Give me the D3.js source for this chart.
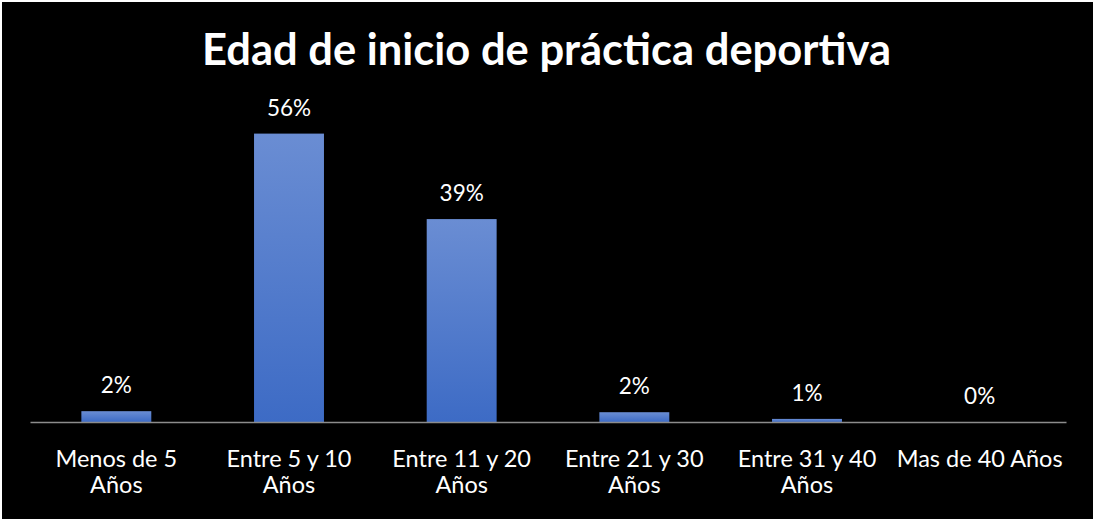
<!DOCTYPE html>
<html>
<head>
<meta charset="utf-8">
<script src="https://cdn.jsdelivr.net/npm/d3@7"></script>
<style>
  html, body { margin: 0; padding: 0; background: #000; }
  svg { display: block; }
  text { font-family: Lato, "Open Sans", sans-serif; }
</style>
</head>
<body>
<svg id="chart" width="1093" height="519"></svg>
<script>
const title = "Edad de inicio de práctica deportiva";
const categories = ["Menos de 5\nAños", "Entre 5 y 10\nAños", "Entre 11 y 20\nAños", "Entre 21 y 30\nAños", "Entre 31 y 40\nAños", "Mas de 40 Años"];
const values = [2.1, 56.0, 39.4, 1.9, 0.6, 0.0];
const yDomain = [0, 60];

const W = 1093, H = 519;
const margin = { left: 30, right: 27, top: 113, bottom: 97 };
const svg = d3.select("#chart");

// frame
svg.append("rect").attr("x", 0).attr("y", 0).attr("width", W).attr("height", H).attr("fill", "#ffffff");
svg.append("rect").attr("x", 2).attr("y", 2).attr("width", W - 2).attr("height", H - 2).attr("fill", "#000000");

const defs = svg.append("defs");
const grad = defs.append("linearGradient").attr("id", "barGrad")
  .attr("x1", 0).attr("y1", 0).attr("x2", 0).attr("y2", 1);
grad.append("stop").attr("offset", "0%").attr("stop-color", "#6a8dd3");
grad.append("stop").attr("offset", "100%").attr("stop-color", "#3d6bc5");

const x = d3.scaleBand().domain(categories).range([margin.left, W - margin.right]).paddingInner(0.595).paddingOuter(0.2975);
const y = d3.scaleLinear().domain(yDomain).range([H - margin.bottom, H - margin.bottom - 309]);

// bars
svg.append("g").selectAll("rect").data(values).join("rect")
  .attr("x", (d, i) => x(categories[i]))
  .attr("y", d => y(d))
  .attr("width", x.bandwidth())
  .attr("height", d => y(0) - y(d))
  .attr("fill", "url(#barGrad)");

// axis
const axis = svg.append("g").attr("transform", `translate(0,${y(0)})`)
  .call(d3.axisBottom(x).tickSize(0).tickPadding(0).tickFormat(""));
axis.select(".domain").attr("stroke", "#8c8c8c").attr("stroke-width", 1.3);

// tick labels
const tl = svg.append("g").selectAll("text").data(categories).join("text")
  .attr("x", d => x(d) + x.bandwidth() / 2)
  .attr("y", y(0) + 45)
  .attr("text-anchor", "middle")
  .attr("fill", "#ffffff")
  .attr("font-size", 23.5);
tl.each(function(d) {
  const lines = d.split("\n");
  const t = d3.select(this);
  lines.forEach((ln, k) => {
    t.append("tspan").attr("x", x(d) + x.bandwidth() / 2).attr("dy", k === 0 ? 0 : 26).text(ln);
  });
});

// data labels
svg.append("g").selectAll("text").data(values).join("text")
  .attr("x", (d, i) => x(categories[i]) + x.bandwidth() / 2)
  .attr("y", d => y(d) - 18)
  .attr("text-anchor", "middle")
  .attr("fill", "#ffffff")
  .attr("font-size", 22.5)
  .text(d => Math.round(d) + "%");

// title
svg.append("text")
  .attr("x", W / 2).attr("y", 65)
  .attr("text-anchor", "middle")
  .attr("fill", "#ffffff")
  .attr("font-size", 43.5)
  .attr("font-weight", "bold")
  .text(title);
</script>
</body>
</html>
